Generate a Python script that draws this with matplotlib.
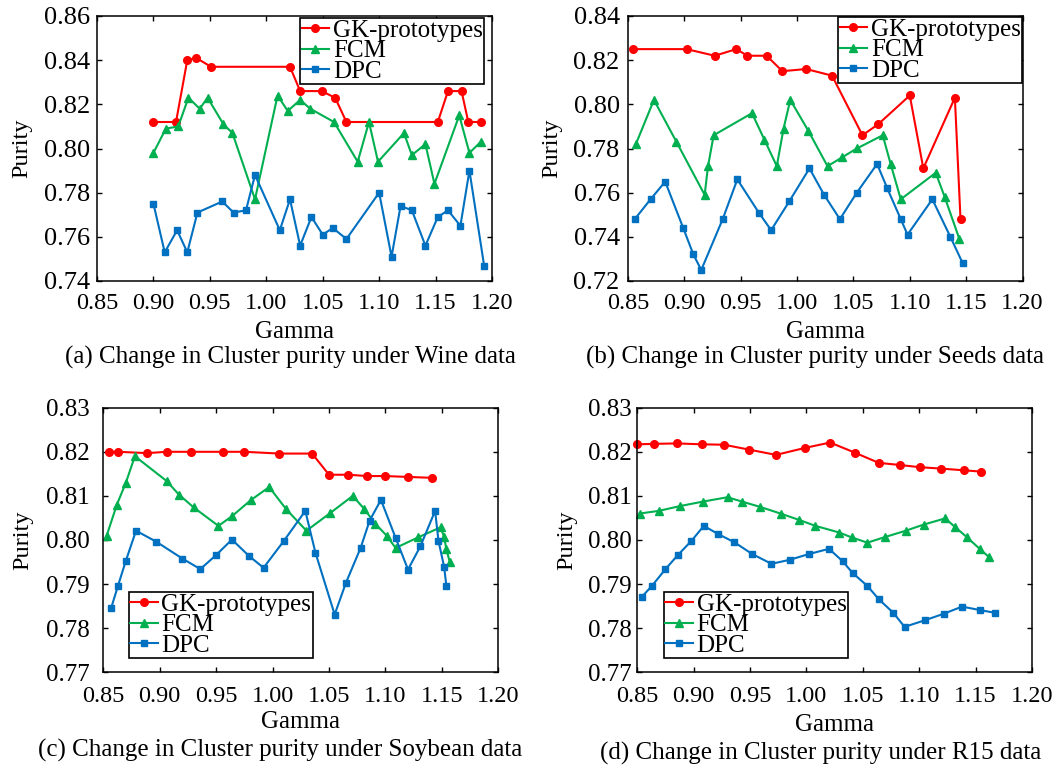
import matplotlib
matplotlib.use("Agg")
import matplotlib.pyplot as plt
from matplotlib.ticker import FormatStrFormatter, MultipleLocator

plt.rcParams['font.family'] = ['Liberation Serif', 'DejaVu Serif']

# ---------------- data ----------------
# (a) Wine
wine_gk_x = [0.900, 0.920, 0.930, 0.938, 0.951, 1.021, 1.030, 1.049, 1.061, 1.071, 1.152, 1.161, 1.173, 1.179, 1.190]
wine_gk_y = [0.812, 0.812, 0.840, 0.841, 0.837, 0.837, 0.826, 0.826, 0.823, 0.812, 0.812, 0.826, 0.826, 0.812, 0.812]
wine_fcm_x = [0.900, 0.911, 0.922, 0.931, 0.941, 0.948, 0.962, 0.970, 0.990, 1.010, 1.019, 1.030, 1.039, 1.060,
              1.081, 1.091, 1.099, 1.122, 1.129, 1.141, 1.149, 1.171, 1.180, 1.190]
wine_fcm_y = [0.798, 0.809, 0.810, 0.823, 0.818, 0.823, 0.811, 0.807, 0.777, 0.824, 0.817, 0.822, 0.818, 0.812,
              0.794, 0.812, 0.794, 0.807, 0.797, 0.802, 0.784, 0.815, 0.798, 0.803]
wine_dpc_x = [0.900, 0.910, 0.921, 0.930, 0.939, 0.961, 0.971, 0.982, 0.990, 1.012, 1.021, 1.030, 1.040, 1.050,
              1.059, 1.071, 1.100, 1.111, 1.119, 1.129, 1.141, 1.152, 1.161, 1.172, 1.180, 1.193]
wine_dpc_y = [0.775, 0.753, 0.763, 0.753, 0.771, 0.776, 0.771, 0.772, 0.788, 0.763, 0.777, 0.756, 0.769, 0.761,
              0.764, 0.759, 0.780, 0.751, 0.774, 0.772, 0.756, 0.769, 0.772, 0.765, 0.790, 0.747]

# (b) Seeds
seeds_gk_x = [0.854, 0.902, 0.927, 0.946, 0.956, 0.973, 0.987, 1.008, 1.031, 1.058, 1.072, 1.100, 1.112, 1.140, 1.145]
seeds_gk_y = [0.825, 0.825, 0.822, 0.825, 0.822, 0.822, 0.815, 0.816, 0.813, 0.786, 0.791, 0.804, 0.771, 0.803, 0.748]
seeds_fcm_x = [0.857, 0.873, 0.893, 0.918, 0.921, 0.926, 0.960, 0.971, 0.982, 0.988, 0.994, 1.010, 1.027, 1.040,
               1.053, 1.076, 1.083, 1.092, 1.123, 1.131, 1.144]
seeds_fcm_y = [0.782, 0.802, 0.783, 0.759, 0.772, 0.786, 0.796, 0.784, 0.772, 0.789, 0.802, 0.788, 0.772, 0.776,
               0.780, 0.786, 0.773, 0.757, 0.769, 0.758, 0.739]
seeds_dpc_x = [0.856, 0.870, 0.883, 0.899, 0.908, 0.915, 0.934, 0.947, 0.966, 0.977, 0.993, 1.011, 1.024, 1.038,
               1.053, 1.071, 1.080, 1.092, 1.098, 1.120, 1.136, 1.147]
seeds_dpc_y = [0.748, 0.757, 0.765, 0.744, 0.732, 0.725, 0.748, 0.766, 0.751, 0.743, 0.756, 0.771, 0.759, 0.748,
               0.760, 0.773, 0.762, 0.748, 0.741, 0.757, 0.740, 0.728]

# (c) Soybean
soy_gk_x = [0.855, 0.863, 0.889, 0.906, 0.928, 0.956, 0.975, 1.006, 1.035, 1.050, 1.067, 1.084, 1.100, 1.120, 1.141]
soy_gk_y = [0.8200, 0.8200, 0.8197, 0.8200, 0.8200, 0.8200, 0.8200, 0.8196, 0.8196, 0.8148, 0.8148, 0.8145,
            0.8145, 0.8143, 0.8141]
soy_fcm_x = [0.853, 0.862, 0.870, 0.878, 0.906, 0.917, 0.930, 0.952, 0.964, 0.981, 0.997, 1.012, 1.030, 1.051,
             1.071, 1.081, 1.091, 1.101, 1.109, 1.129, 1.149, 1.152, 1.154, 1.157]
soy_fcm_y = [0.8010, 0.8080, 0.8130, 0.8190, 0.8134, 0.8103, 0.8074, 0.8032, 0.8054, 0.8091, 0.8120, 0.8070,
             0.8021, 0.8061, 0.8100, 0.8071, 0.8037, 0.8010, 0.7982, 0.8006, 0.8029, 0.8006, 0.7979, 0.7950]
soy_dpc_x = [0.857, 0.863, 0.870, 0.879, 0.897, 0.920, 0.936, 0.950, 0.964, 0.979, 0.992, 1.010, 1.029, 1.038,
             1.055, 1.065, 1.078, 1.086, 1.096, 1.109, 1.120, 1.131, 1.144, 1.147, 1.152, 1.154]
soy_dpc_y = [0.7846, 0.7896, 0.7953, 0.8021, 0.7996, 0.7958, 0.7934, 0.7966, 0.8001, 0.7964, 0.7937, 0.7998,
             0.8066, 0.7971, 0.7831, 0.7903, 0.7982, 0.8044, 0.8091, 0.8005, 0.7933, 0.7986, 0.8066, 0.7998,
             0.7939, 0.7896]

# (d) R15
r15_gk_x = [0.850, 0.865, 0.885, 0.907, 0.927, 0.949, 0.973, 0.999, 1.021, 1.043, 1.064, 1.083, 1.101, 1.119,
            1.140, 1.155]
r15_gk_y = [0.8217, 0.8218, 0.8219, 0.8217, 0.8216, 0.8205, 0.8193, 0.8209, 0.8221, 0.8198, 0.8175, 0.8170,
            0.8165, 0.8162, 0.8158, 0.8155]
r15_fcm_x = [0.852, 0.869, 0.888, 0.908, 0.930, 0.943, 0.959, 0.977, 0.993, 1.008, 1.029, 1.040, 1.054, 1.070,
             1.088, 1.104, 1.123, 1.132, 1.142, 1.154, 1.162]
r15_fcm_y = [0.8060, 0.8066, 0.8077, 0.8087, 0.8097, 0.8087, 0.8075, 0.8060, 0.8046, 0.8032, 0.8017, 0.8006,
             0.7994, 0.8007, 0.8021, 0.8035, 0.8049, 0.8029, 0.8007, 0.7979, 0.7961]
r15_dpc_x = [0.854, 0.863, 0.875, 0.886, 0.898, 0.909, 0.922, 0.936, 0.952, 0.969, 0.985, 1.002, 1.020, 1.032,
             1.041, 1.054, 1.064, 1.077, 1.087, 1.105, 1.122, 1.138, 1.154, 1.167]
r15_dpc_y = [0.7871, 0.7896, 0.7934, 0.7966, 0.7998, 0.8032, 0.8013, 0.7995, 0.7968, 0.7946, 0.7955, 0.7968,
             0.7980, 0.7952, 0.7925, 0.7896, 0.7866, 0.7835, 0.7803, 0.7818, 0.7833, 0.7849, 0.7841, 0.7835]

series_names = ["GK-prototypes", "FCM", "DPC"]
x_ticks = [0.85, 0.90, 0.95, 1.00, 1.05, 1.10, 1.15, 1.20]
captions = ["(a) Change in Cluster purity under Wine data",
            "(b) Change in Cluster purity under Seeds data",
            "(c) Change in Cluster purity under Soybean data",
            "(d) Change in Cluster purity under R15 data"]
ylims = [(0.74, 0.86, 0.02), (0.72, 0.84, 0.02), (0.77, 0.83, 0.01), (0.77, 0.83, 0.01)]

panels = [
    [(wine_gk_x, wine_gk_y), (wine_fcm_x, wine_fcm_y), (wine_dpc_x, wine_dpc_y)],
    [(seeds_gk_x, seeds_gk_y), (seeds_fcm_x, seeds_fcm_y), (seeds_dpc_x, seeds_dpc_y)],
    [(soy_gk_x, soy_gk_y), (soy_fcm_x, soy_fcm_y), (soy_dpc_x, soy_dpc_y)],
    [(r15_gk_x, r15_gk_y), (r15_fcm_x, r15_fcm_y), (r15_dpc_x, r15_dpc_y)],
]

colors = ['#FF0000', '#00B050', '#0070C0']
markers = ['o', '^', 's']
msizes = [5.5, 6.0, 5.0]

# ---------------- layout ----------------
W, H = 1056, 773
fig = plt.figure(figsize=(W / 100, H / 100), dpi=100)

# axes boxes in pixels: left, top, right, bottom
boxes = [(97, 16, 492, 281), (628, 16, 1022.5, 281), (103.3, 407.7, 498.3, 672.3), (637.3, 407.7, 1032, 672.3)]
# legend anchors (pixels) and loc
legend_specs = [((484, 18), 'upper right'), ((1022, 17), 'upper right'),
                ((129, 658), 'lower left'), ((664, 658), 'lower left')]
caption_pos = [(290, 357), (815, 357), (280, 750), (821, 753)]
gamma_y = [332, 332, 722, 725]
ytick_pad = [5.2, 6.0, 9.5, 4.2]
ytick_size = [19, 19, 18, 18]
xtick_pad = [8.5, 8.5, 10, 10]
ylabel_right = [32, 562, 33, 577]

for i, (l, t, r, b) in enumerate(boxes):
    ax = fig.add_axes([l / W, 1 - b / H, (r - l) / W, (b - t) / H])
    for (xs, ys), c, m, ms, name in zip(panels[i], colors, markers, msizes, series_names):
        ax.plot(xs, ys, color=c, marker=m, markersize=ms, linewidth=1.5, label=name, clip_on=False)
    lo, hi, step = ylims[i]
    ax.set_xlim(0.85, 1.20)
    ax.set_ylim(lo, hi)
    ax.set_xticks(x_ticks)
    ax.yaxis.set_major_locator(MultipleLocator(step))
    ax.xaxis.set_major_formatter(FormatStrFormatter('%.2f'))
    ax.yaxis.set_major_formatter(FormatStrFormatter('%.2f'))
    ax.tick_params(direction='in', top=True, right=True, length=3.5, width=1.0)
    ax.tick_params(axis='x', labelsize=17.5, pad=xtick_pad[i])
    ax.tick_params(axis='y', labelsize=ytick_size[i], pad=ytick_pad[i])
    for s in ax.spines.values():
        s.set_linewidth(1.1)
    ax.set_ylabel("Purity", fontsize=17.5)
    ax.yaxis.set_label_coords((ylabel_right[i] - l) / (r - l), 0.5)
    (ax_x, ax_y), loc = legend_specs[i]
    leg = ax.legend(loc=loc, bbox_to_anchor=(ax_x / W, 1 - ax_y / H), bbox_transform=fig.transFigure,
                    fontsize=18, frameon=True, fancybox=False, framealpha=1, edgecolor='black',
                    borderpad=0.05, handlelength=1.1, handletextpad=0.15, labelspacing=-0.08,
                    borderaxespad=0)
    leg.get_frame().set_linewidth(1.2)
    cx = (l + r) / 2
    fig.text(cx / W, 1 - gamma_y[i] / H, "Gamma", fontsize=18, ha='center', va='center')
    px, py = caption_pos[i]
    fig.text(px / W, 1 - py / H, captions[i], fontsize=18, ha='center', va='center')

fig.savefig("out.png", dpi=100)
